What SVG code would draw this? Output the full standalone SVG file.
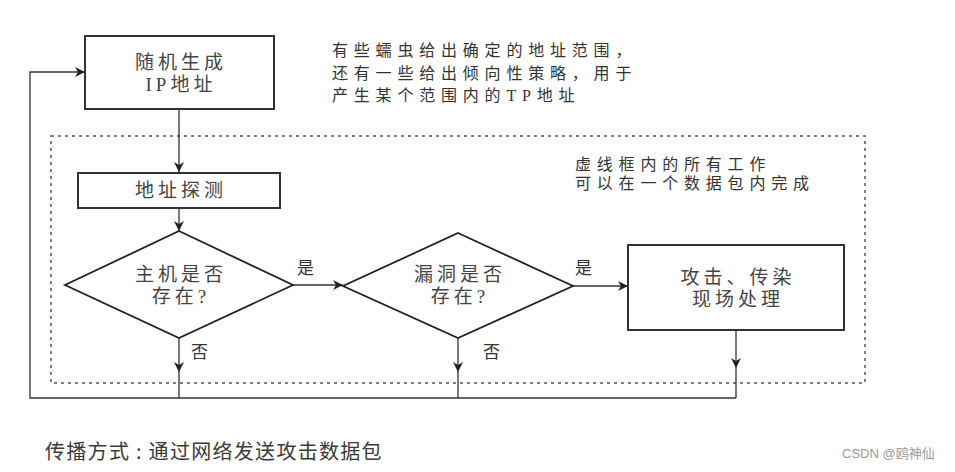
<svg xmlns="http://www.w3.org/2000/svg" width="955" height="472" viewBox="0 0 955 472">
<style>
.box{fill:#fff;stroke:#333;stroke-width:2}
.dia{fill:#fff;stroke:#222;stroke-width:1.8}
.t{font-family:"Liberation Serif","Noto Sans CJK SC",serif;font-size:19px;fill:#444;text-anchor:middle;letter-spacing:4px}
.note{font-family:"Liberation Serif","Noto Sans CJK SC",serif;font-size:16px;fill:#333;letter-spacing:5.8px}
.lbl{font-family:"Liberation Serif","Noto Sans CJK SC",serif;font-size:17px;fill:#333}
.ln{fill:none;stroke:#333;stroke-width:1.3}
</style>
<defs>
<marker id="arr" viewBox="0 0 10 10" refX="10" refY="5" markerWidth="10" markerHeight="10" orient="auto" markerUnits="userSpaceOnUse">
<path d="M0,0 L10,5 L0,10 L3,5 z" fill="#222"/>
</marker>
</defs>
<rect width="955" height="472" fill="#fff"/>
<rect id="dashed-frame" x="51" y="136" width="814" height="247" fill="none" stroke="#555" stroke-width="1.5" stroke-dasharray="3,4"/>
<g id="connectors">
<path class="ln" d="M179,109 V172" marker-end="url(#arr)"/>
<path class="ln" d="M179,208 V231" marker-end="url(#arr)"/>
<path class="ln" d="M293,285 H343" marker-end="url(#arr)"/>
<path class="ln" d="M573,286 H628" marker-end="url(#arr)"/>
<path class="ln" d="M179,338 V372" marker-end="url(#arr)"/>
<path class="ln" d="M458,338 V372" marker-end="url(#arr)"/>
<path class="ln" d="M736,330 V368" marker-end="url(#arr)"/>
<path class="ln" d="M179,372 V398 M458,372 V398 M736,368 V398 M736,398 H30 V72 H85" marker-end="url(#arr)"/>
<text class="lbl" x="297" y="274">是</text>
<text class="lbl" x="575" y="274">是</text>
<text class="lbl" x="191" y="358">否</text>
<text class="lbl" x="483" y="358">否</text>
</g>
<g id="gen-ip">
<rect class="box" x="85" y="36" width="189" height="73"/>
<text class="t" x="181" y="69">随机生成</text>
<text class="t" x="181" y="91">IP地址</text>
</g>
<g id="probe">
<rect class="box" x="78" y="173" width="202" height="35" stroke-width="1.6"/>
<text class="t" x="181" y="197">地址探测</text>
</g>
<g id="host-exists">
<polygon class="dia" points="179,231 293,285 179,338 65,285"/>
<text class="t" x="181" y="281">主机是否</text>
<text class="t" x="181" y="303">存在?</text>
</g>
<g id="vuln-exists">
<polygon class="dia" points="458,233 573,286 458,338 343,286"/>
<text class="t" x="460" y="281">漏洞是否</text>
<text class="t" x="460" y="303">存在?</text>
</g>
<g id="attack">
<rect class="box" x="628" y="245" width="216" height="85" stroke-width="1.6"/>
<text class="t" x="738" y="284">攻击、传染</text>
<text class="t" x="738" y="306">现场处理</text>
</g>
<g id="notes">
<text class="note" x="332" y="56">有些蠕虫给出确定的地址范围，</text>
<text class="note" x="332" y="79">还有一些给出倾向性策略，用于</text>
<text class="note" x="332" y="101">产生某个范围内的TP地址</text>
<text class="note" x="575" y="170">虚线框内的所有工作</text>
<text class="note" x="575" y="189">可以在一个数据包内完成</text>
</g>
<text x="45" y="459" font-family="'Noto Sans CJK SC',sans-serif" font-size="20" letter-spacing="1.3" fill="#3a3a3a">传播方式 : 通过网络发送攻击数据包</text>
<text x="842" y="458" font-family="'Liberation Sans','Noto Sans CJK SC',sans-serif" font-size="13" fill="#999">CSDN @鸥神仙</text>
</svg>
